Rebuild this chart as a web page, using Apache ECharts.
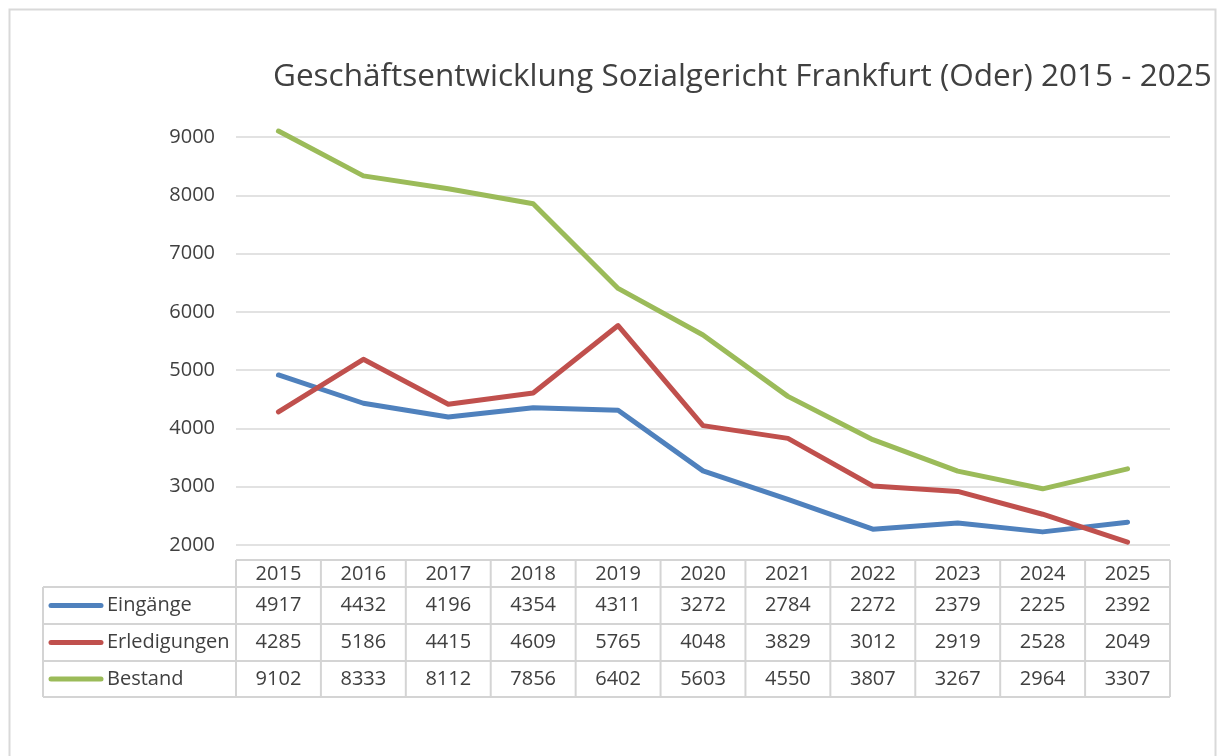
<!DOCTYPE html>
<html><head><meta charset="utf-8">
<script src="https://cdn.jsdelivr.net/npm/echarts@6/dist/echarts.min.js"></script>
<style>html,body{margin:0;padding:0;background:#fff}#c{width:1218px;height:756px}</style>
</head><body><div id="c"></div>
<script>
const title = 'Geschäftsentwicklung Sozialgericht Frankfurt (Oder) 2015 - 2025';
const years = ['2015','2016','2017','2018','2019','2020','2021','2022','2023','2024','2025'];
const seriesNames = ['Eingänge','Erledigungen','Bestand'];
const eingaenge = [4917,4432,4196,4354,4311,3272,2784,2272,2379,2225,2392];
const erledigungen = [4285,5186,4415,4609,5765,4048,3829,3012,2919,2528,2049];
const bestand = [9102,8333,8112,7856,6402,5603,4550,3807,3267,2964,3307];
const yTicks = [2000,3000,4000,5000,6000,7000,8000,9000];

const colors = ['#4F81BD','#C0504D','#9BBB59'];
const allData = [eingaenge, erledigungen, bestand];
const FONT = '"Open Sans", sans-serif';
const TXT = '#404040';
const LINE = '#d4d4d4';
const FS = 20;

const chart = echarts.init(document.getElementById('c'), null, {renderer:'canvas'});
chart.setOption({
  animation:false,
  backgroundColor:'#fff',
  title:{text:title,left:268,top:56,textStyle:{fontFamily:FONT,fontSize:31.5,fontWeight:'normal',color:TXT}},
  grid:{left:236,right:48,top:137,bottom:211},
  xAxis:{type:'category',data:years,boundaryGap:true,axisLine:{show:false},axisTick:{show:false},axisLabel:{show:false},splitLine:{show:false}},
  yAxis:{type:'value',min:yTicks[0],max:yTicks[yTicks.length-1],interval:1000,
    axisLine:{show:false},axisTick:{show:false},
    axisLabel:{margin:21,fontFamily:FONT,fontSize:FS,color:TXT,formatter:v=>String(v)},
    splitLine:{lineStyle:{color:'#d9d9d9',width:1.5}}},
  series: seriesNames.map((n,i)=>({name:n,type:'line',data:allData[i],symbol:'none',clip:false,
    lineStyle:{color:colors[i],width:5,cap:'round',join:'round'}}))
});

const xs = years.map(y=>chart.convertToPixel({xAxisIndex:0}, y));
const band = xs[1]-xs[0];
const tLeft = xs[0]-band/2, tRight = xs[xs.length-1]+band/2;
const legLeft = 43;
const rowY = [560,587,624,661,697];
const g = [];
g.push({type:'rect',shape:{x:9.5,y:9.5,width:1206,height:900},style:{fill:null,stroke:'#d9d9d9',lineWidth:2},silent:true});
g.push({type:'line',shape:{x1:tLeft,y1:rowY[0],x2:tRight,y2:rowY[0]},style:{stroke:LINE,lineWidth:2}});
for(let r=1;r<rowY.length;r++){
  g.push({type:'line',shape:{x1:legLeft,y1:rowY[r],x2:tRight,y2:rowY[r]},style:{stroke:LINE,lineWidth:2}});
}
g.push({type:'line',shape:{x1:legLeft,y1:rowY[1],x2:legLeft,y2:rowY[4]},style:{stroke:LINE,lineWidth:2}});
for(let c=0;c<=years.length;c++){
  const x = tLeft + c*band;
  g.push({type:'line',shape:{x1:x,y1:rowY[0],x2:x,y2:rowY[4]},style:{stroke:LINE,lineWidth:2}});
}
years.forEach((y,i)=>{
  g.push({type:'text',x:xs[i],y:(rowY[0]+rowY[1])/2+1,style:{text:y,font:FS+'px '+FONT,fill:TXT,align:'center',verticalAlign:'middle'}});
});
seriesNames.forEach((n,r)=>{
  const cy = (rowY[r+1]+rowY[r+2])/2;
  g.push({type:'line',shape:{x1:51,y1:cy,x2:101,y2:cy},style:{stroke:colors[r],lineWidth:5,lineCap:'round'}});
  g.push({type:'text',x:107,y:cy,style:{text:n,font:FS+'px '+FONT,fill:TXT,align:'left',verticalAlign:'middle'}});
  allData[r].forEach((v,i)=>{
    g.push({type:'text',x:xs[i],y:cy,style:{text:String(v),font:FS+'px '+FONT,fill:TXT,align:'center',verticalAlign:'middle'}});
  });
});
chart.setOption({graphic:g});
</script></body></html>
